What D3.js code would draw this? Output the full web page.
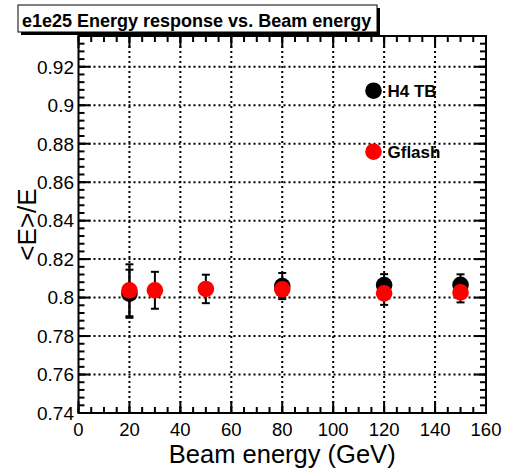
<!DOCTYPE html>
<html>
<head>
<meta charset="utf-8">
<script src="https://cdn.jsdelivr.net/npm/d3@7"></script>
<style>
  html, body { margin: 0; padding: 0; background: #fff; }
  svg { display: block; font-family: "Liberation Sans", Arial, Helvetica, sans-serif; }
</style>
</head>
<body>
<svg id="chart" width="506" height="468"></svg>
<script>
// Beam energies (GeV) and mean energy response <E>/E with errors
const h4Energy = [20, 80, 120, 150];
const h4Response = [0.8020, 0.8060, 0.8065, 0.8066];
const h4Error = [0.0125, 0.0068, 0.0057, 0.0055];

const gfEnergy = [20, 30, 50, 80, 120, 150];
const gfResponse = [0.8038, 0.8038, 0.8045, 0.8043, 0.8022, 0.8027];
const gfError = [0.0135, 0.0096, 0.0074, 0.0040, 0.0060, 0.0052];

const xTicks = [0, 20, 40, 60, 80, 100, 120, 140, 160];
const yTicks = [0.74, 0.76, 0.78, 0.80, 0.82, 0.84, 0.86, 0.88, 0.90, 0.92];

const titleText = "e1e25 Energy response vs. Beam energy";
const xTitle = "Beam energy (GeV)";
const yTitle = "<E>/E";
const legendLabels = ["H4 TB", "Gflash"];

const svg = d3.select("#chart");
const L = 78.5, R = 486, T = 36, B = 413;

const x = d3.scaleLinear().domain([0, 160]).range([L, R]);
const y = d3.scaleLinear().domain([0.74, 0.936]).range([B, T]);

// dotted grid at major ticks
const grid = svg.append("g").attr("stroke", "#000").attr("stroke-width", 2)
  .attr("stroke-dasharray", "2,3");
xTicks.filter(v => v > 0 && v < 160).forEach(v => {
  grid.append("line").attr("x1", x(v)).attr("x2", x(v)).attr("y1", B).attr("y2", T);
});
yTicks.filter(v => v > 0.745).forEach(v => {
  grid.append("line").attr("x1", L).attr("x2", R).attr("y1", y(v)).attr("y2", y(v));
});

// axes with inward ticks on all four sides
const xMinor = d3.range(0, 160.01, 5);
const yMinor = d3.range(0, 50).map(i => 0.74 + i * 0.004).filter(v => v <= 0.936);

function axisTicks(g, vals, scale, horizontal, base, dir, len) {
  vals.forEach(v => {
    const p = scale(v);
    if (horizontal) g.append("line").attr("x1", p).attr("x2", p).attr("y1", base).attr("y2", base + dir * len);
    else g.append("line").attr("y1", p).attr("y2", p).attr("x1", base).attr("x2", base + dir * len);
  });
}
const ax = svg.append("g").attr("stroke", "#000").attr("stroke-width", 2);
axisTicks(ax, xMinor, x, true, B, -1, 6);
axisTicks(ax, xTicks, x, true, B, -1, 12);
axisTicks(ax, xMinor, x, true, T, 1, 6);
axisTicks(ax, xTicks, x, true, T, 1, 12);
axisTicks(ax, yMinor, y, false, L, 1, 6);
axisTicks(ax, yTicks, y, false, L, 1, 12);
axisTicks(ax, yMinor, y, false, R, -1, 6);
axisTicks(ax, yTicks, y, false, R, -1, 12);
ax.append("rect").attr("x", L).attr("y", T).attr("width", R - L).attr("height", B - T)
  .attr("fill", "none");

// tick labels
svg.append("g").selectAll("text").data(xTicks).join("text")
  .attr("x", d => x(d)).attr("y", 436).attr("text-anchor", "middle")
  .attr("font-size", 18.5).text(d => d);
svg.append("g").selectAll("text").data(yTicks).join("text")
  .attr("x", 74).attr("y", d => y(d)).attr("dy", "0.36em").attr("text-anchor", "end")
  .attr("font-size", 19).text(d => d3.format(".2~f")(d));

// axis titles
svg.append("text").attr("x", (L + R) / 2).attr("y", 463).attr("text-anchor", "middle")
  .attr("font-size", 25.5).text(xTitle);
svg.append("text").attr("transform", `translate(36,${(T + B) / 2}) rotate(-90)`)
  .attr("text-anchor", "middle").attr("font-size", 26).text(yTitle);

// error bars and markers
function drawSeries(xs, ys, es, color) {
  const g = svg.append("g");
  xs.forEach((xv, i) => {
    const cx = x(xv), y0 = y(ys[i] - es[i]), y1 = y(ys[i] + es[i]);
    g.append("line").attr("x1", cx).attr("x2", cx).attr("y1", y0).attr("y2", y1)
      .attr("stroke", "#000").attr("stroke-width", 2);
    [y0, y1].forEach(yy => g.append("line").attr("x1", cx - 4).attr("x2", cx + 4)
      .attr("y1", yy).attr("y2", yy).attr("stroke", "#000").attr("stroke-width", 2));
  });
  g.selectAll("circle").data(xs).join("circle")
    .attr("cx", d => x(d)).attr("cy", (d, i) => y(ys[i])).attr("r", 8.3).attr("fill", color);
}
drawSeries(h4Energy, h4Response, h4Error, "#000");
drawSeries(gfEnergy, gfResponse, gfError, "#ff0000");

// legend
const legend = svg.append("g");
[["#000", 90.7], ["#ff0000", 151.7]].forEach(([c, yy], i) => {
  legend.append("circle").attr("cx", 373.5).attr("cy", yy).attr("r", 8.3).attr("fill", c);
  legend.append("text").attr("x", 387.5).attr("y", yy).attr("dy", "0.36em")
    .attr("font-size", 17).attr("font-weight", "bold").text(legendLabels[i]);
});

// title box with drop shadow
svg.append("rect").attr("x", 21).attr("y", 8).attr("width", 359).attr("height", 27).attr("fill", "#000");
svg.append("rect").attr("x", 18).attr("y", 5).attr("width", 359).attr("height", 27)
  .attr("fill", "#fff").attr("stroke", "#000").attr("stroke-width", 1);
svg.append("text").attr("x", 22).attr("y", 26.5).attr("font-size", 18).attr("font-weight", "bold")
  .text(titleText);
</script>
</body>
</html>
